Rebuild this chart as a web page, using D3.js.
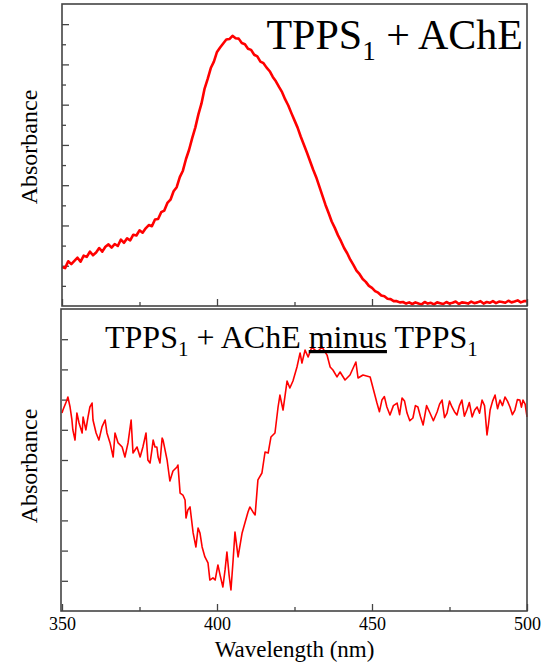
<!DOCTYPE html>
<html>
<head>
<meta charset="utf-8">
<script src="https://cdn.jsdelivr.net/npm/d3@7"></script>
<style>
  body { margin: 0; background: #fff; }
  text { font-family: "Liberation Serif", "Times New Roman", serif; fill: #000; }
</style>
</head>
<body>
<div class="canvas"></div>
<script>

// data

// top panel: TPPS1 + AChE absorbance, one point per nm 350..500
var topWavelength = d3.range(350, 501, 1);
var topAbs = [
  0.097,0.094,0.111,0.104,0.112,0.120,0.110,0.125,0.122,0.135,
  0.126,0.133,0.144,0.135,0.147,0.153,0.145,0.154,0.149,0.165,
  0.157,0.168,0.163,0.177,0.175,0.188,0.182,0.193,0.201,0.198,
  0.215,0.216,0.233,0.237,0.256,0.264,0.285,0.295,0.320,0.336,
  0.365,0.388,0.417,0.443,0.476,0.503,0.540,0.564,0.591,0.607,
  0.631,0.642,0.652,0.662,0.663,0.671,0.665,0.664,0.653,0.650,
  0.639,0.636,0.624,0.620,0.607,0.603,0.592,0.583,0.569,0.558,
  0.544,0.531,0.513,0.498,0.479,0.461,0.443,0.421,0.401,0.381,
  0.360,0.339,0.320,0.297,0.274,0.251,0.231,0.210,0.194,0.176,
  0.161,0.144,0.131,0.115,0.102,0.088,0.079,0.067,0.060,0.050,
  0.045,0.037,0.033,0.026,0.024,0.018,0.017,0.012,0.012,0.009,
  0.010,0.006,0.009,0.005,0.009,0.006,0.004,0.010,0.006,0.008,
  0.004,0.009,0.007,0.005,0.010,0.006,0.008,0.011,0.005,0.009,
  0.008,0.006,0.011,0.007,0.009,0.012,0.006,0.010,0.008,0.012,
  0.007,0.011,0.010,0.008,0.013,0.009,0.011,0.014,0.009,0.012,
  0.012
];

// bottom panel: difference spectrum (TPPS1 + AChE minus TPPS1), arbitrary units
var diffWavelength = [
  350.0,350.3,351.6,351.9,352.6,353.2,353.5,354.2,354.8,355.5,
  356.5,356.8,357.7,358.4,359.0,359.7,360.0,361.0,361.9,362.9,
  363.9,364.5,365.5,366.5,367.1,368.1,369.4,370.3,371.3,372.3,
  372.9,374.2,375.2,376.1,377.1,377.7,378.4,379.0,379.4,380.0,
  380.6,381.0,381.6,382.3,382.6,383.9,384.8,385.8,387.1,387.4,
  388.1,389.0,389.7,390.0,390.6,391.3,392.3,393.2,393.9,394.5,
  395.2,396.1,397.1,397.7,398.7,399.4,400.3,401.0,401.9,402.6,
  403.2,403.9,404.5,405.2,405.8,406.8,408.1,409.0,410.0,410.6,
  411.6,412.3,413.2,414.5,415.5,416.5,417.4,418.7,419.7,420.3,
  421.3,422.6,423.5,424.5,425.8,426.8,427.4,428.4,429.4,430.6,
  432.3,433.9,435.5,436.5,437.4,438.7,439.7,441.3,442.9,444.8,
  445.5,447.1,449.4,451.6,452.4,453.2,454.0,454.8,455.8,456.9,
  458.1,458.9,459.7,460.5,461.3,462.2,463.2,464.0,464.8,465.6,
  466.5,467.6,468.7,469.8,471.0,471.8,472.6,473.4,474.2,475.0,
  475.8,476.6,477.4,478.2,479.0,479.8,480.6,481.4,482.3,483.1,
  483.9,484.7,485.5,486.3,487.1,487.6,488.1,488.9,489.7,490.5,
  491.3,492.1,492.9,493.7,494.5,495.3,496.1,496.9,497.7,498.2,
  498.7,499.4,500.0
];
var diffAbs = [
  3.11,3.31,3.97,4.17,3.51,2.65,1.99,1.32,3.11,2.45,
  1.79,2.85,1.99,2.85,3.51,3.77,2.65,1.79,1.32,2.19,
  2.65,1.79,1.13,0.20,1.79,1.13,0.86,0.20,1.13,2.65,
  0.46,0.86,0.20,0.86,1.79,0.00,-0.20,0.66,1.32,0.86,
  0.86,0.20,-0.20,1.46,1.32,0.00,-1.39,-0.73,-0.46,-0.33,
  -2.19,-2.32,-2.65,-3.84,-3.31,-3.11,-4.83,-5.76,-4.50,-4.83,
  -5.76,-6.42,-6.82,-7.95,-7.81,-7.95,-6.95,-7.62,-8.41,-7.28,
  -6.09,-7.62,-8.61,-6.62,-4.77,-6.42,-4.83,-4.17,-3.44,-3.11,
  -3.44,-3.64,-1.32,-0.86,0.53,0.46,1.52,1.79,3.51,4.30,
  3.31,5.23,4.77,5.23,6.16,7.09,6.42,7.28,6.82,7.48,
  7.15,7.48,6.95,6.16,5.96,5.50,5.83,5.30,5.63,6.49,
  5.43,5.63,5.50,3.77,3.20,3.97,4.20,3.51,2.98,3.60,
  3.77,3.00,4.11,3.90,3.11,2.60,2.78,3.60,3.51,2.90,
  2.32,3.60,3.11,2.60,3.18,3.70,3.97,2.80,3.11,3.90,
  3.51,3.20,2.98,3.60,3.97,2.90,3.31,3.80,2.85,3.30,
  3.51,3.10,3.97,3.60,1.66,2.40,3.31,3.90,4.30,3.40,
  3.97,3.60,4.17,3.90,3.51,3.00,3.31,4.00,3.97,3.50,
  3.97,3.70,2.85
];

var xTicks = [350, 400, 450, 500];
var xMinorTicks = [375, 425, 475];
var topMajorTicks = [0.1, 0.2, 0.3, 0.4, 0.5, 0.6, 0.7];
var topMinorTicks = [0.05, 0.15, 0.25, 0.35, 0.45, 0.55, 0.65];
var diffTicks = [-8, -6, -4, -2, 0, 2, 4, 6, 8];


// layout

var width = 544, height = 665;
var left = 62, right = 527;
var top1 = 4, bottom1 = 306;
var top2 = 309, bottom2 = 611;

var svg = d3.select('.canvas')
    .append('svg')
    .attr('width', width)
    .attr('height', height);

var x = d3.scaleLinear().domain([350, 500]).range([left, right]);
var yTop = d3.scaleLinear().domain([0, 0.75]).range([bottom1, top1]);
var yDiff = d3.scaleLinear().domain([-10, 10]).range([bottom2, top2]);

var frameColor = '#444';

function styleAxis(g) {
    g.select('.domain').remove();
    g.selectAll('.tick line').attr('stroke', frameColor).attr('stroke-width', 1.3);
}

// top panel axes
svg.append('g')
    .attr('transform', 'translate(' + left + ',0)')
    .call(d3.axisLeft(yTop).tickValues(topMajorTicks).tickSize(-7).tickFormat(''))
    .call(styleAxis);
svg.append('g')
    .attr('transform', 'translate(' + left + ',0)')
    .call(d3.axisLeft(yTop).tickValues(topMinorTicks).tickSize(-4).tickFormat(''))
    .call(styleAxis);
svg.append('g')
    .attr('transform', 'translate(0,' + bottom1 + ')')
    .call(d3.axisBottom(x).tickValues(xTicks).tickSize(-7).tickFormat(''))
    .call(styleAxis);
svg.append('g')
    .attr('transform', 'translate(0,' + bottom1 + ')')
    .call(d3.axisBottom(x).tickValues(xMinorTicks).tickSize(-4).tickFormat(''))
    .call(styleAxis);

// bottom panel axes
svg.append('g')
    .attr('transform', 'translate(' + left + ',0)')
    .call(d3.axisLeft(yDiff).tickValues(diffTicks).tickSize(-6).tickFormat(''))
    .call(styleAxis);
svg.append('g')
    .attr('transform', 'translate(0,' + bottom2 + ')')
    .call(d3.axisBottom(x).tickValues(xTicks).tickSize(-7).tickPadding(6).tickFormat(d3.format('d')))
    .call(styleAxis)
    .call(function(g) {
        g.selectAll('.tick text')
            .attr('font-family', '"Liberation Serif", "Times New Roman", serif')
            .attr('font-size', 18)
            .attr('fill', '#000');
    });
svg.append('g')
    .attr('transform', 'translate(0,' + bottom2 + ')')
    .call(d3.axisBottom(x).tickValues(xMinorTicks).tickSize(-4).tickFormat(''))
    .call(styleAxis);

// curves
var topLine = d3.line()
    .x(function(d, i) { return x(topWavelength[i]); })
    .y(function(d) { return yTop(d); });

svg.append('path')
    .datum(topAbs)
    .attr('fill', 'none')
    .attr('stroke', '#ff0000')
    .attr('stroke-width', 2.6)
    .attr('stroke-linejoin', 'round')
    .attr('d', topLine);

var diffLine = d3.line()
    .x(function(d, i) { return x(diffWavelength[i]); })
    .y(function(d) { return yDiff(d); });

svg.append('path')
    .datum(diffAbs)
    .attr('fill', 'none')
    .attr('stroke', '#ff0000')
    .attr('stroke-width', 1.6)
    .attr('stroke-linejoin', 'round')
    .attr('d', diffLine);

// frames
svg.append('rect')
    .attr('x', left).attr('y', top1)
    .attr('width', right - left).attr('height', bottom1 - top1)
    .attr('fill', 'none').attr('stroke', frameColor).attr('stroke-width', 1.6);
svg.append('rect')
    .attr('x', left - 1).attr('y', top2)
    .attr('width', right - left + 1).attr('height', bottom2 - top2)
    .attr('fill', 'none').attr('stroke', frameColor).attr('stroke-width', 1.6);

// titles
var t1 = svg.append('text')
    .attr('x', 523)
    .attr('y', 49)
    .attr('text-anchor', 'end')
    .attr('font-size', 42);
t1.append('tspan').text('TPPS');
t1.append('tspan').attr('font-size', 27).attr('dy', 11).text('1');
t1.append('tspan').attr('dy', -11).text(' + AChE');

var t2 = svg.append('text')
    .attr('x', 105)
    .attr('y', 348)
    .attr('font-size', 32);
t2.append('tspan').text('TPPS');
t2.append('tspan').attr('font-size', 21).attr('dy', 8).text('1');
t2.append('tspan').attr('dy', -8).text(' + AChE ');
t2.append('tspan').attr('text-decoration', 'underline').text('minus');
t2.append('tspan').text(' TPPS');
t2.append('tspan').attr('font-size', 21).attr('dy', 8).text('1');

// axis labels
svg.append('text')
    .attr('transform', 'translate(37,147) rotate(-90)')
    .attr('text-anchor', 'middle')
    .attr('font-size', 24)
    .text('Absorbance');

svg.append('text')
    .attr('transform', 'translate(37,466) rotate(-90)')
    .attr('text-anchor', 'middle')
    .attr('font-size', 24)
    .text('Absorbance');

svg.append('text')
    .attr('x', (left + right) / 2)
    .attr('y', 657)
    .attr('text-anchor', 'middle')
    .attr('font-size', 23)
    .text('Wavelength (nm)');

</script>
</body>
</html>
